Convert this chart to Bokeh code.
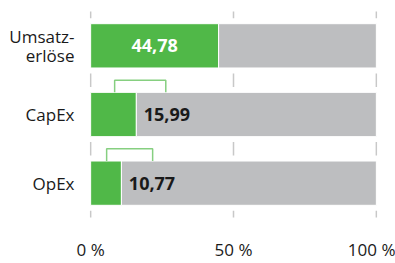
from bokeh.plotting import figure
from bokeh.models import ColumnDataSource, Range1d, FixedTicker
from bokeh.core.properties import value
from bokeh.embed import file_html
from bokeh.resources import INLINE

categories = ["Umsatz-\nerlöse", "CapEx", "OpEx"]
shares = [44.78, 15.99, 10.77]
share_labels = ["44,78", "15,99", "10,77"]
bracket_low = [None, 8.4, 5.6]
bracket_high = [None, 26.3, 21.7]
x_ticks = [0, 50, 100]
x_tick_labels = ["0 %", "50 %", "100 %"]

GREEN = "#50b848"
GREY = "#bdbec0"
BRACKET = "#86cf80"
GRID = "#c8c8c8"
TEXT = "#1a1a1a"
FONT = "Open Sans"

W, H = 395, 263
BL, BR, BT, BB = 89, 18, 11, 38
pitch = (H - BT - BB) / len(categories)
bar_h = 46 / pitch
dash_half = 7 / pitch
line_gap = 20 / pitch  # spacing of wrapped category label lines

pos = list(range(len(categories)))

p = figure(width=W, height=H, output_backend="svg", toolbar_location=None,
           x_range=Range1d(-0.4, 100.4), y_range=Range1d(len(categories) - 0.5, -0.5),
           min_border_left=BL, min_border_right=BR, min_border_top=BT, min_border_bottom=BB)
p.outline_line_color = None
p.background_fill_color = "white"
p.border_fill_color = "white"
p.xgrid.grid_line_color = None
p.ygrid.grid_line_color = None

# dashed gridlines: short dashes in the gaps between bars
bounds = [i - 0.5 for i in range(len(categories) + 1)]
gx, gy0, gy1 = [], [], []
for t in x_ticks:
    for b in bounds:
        gx.append(t)
        gy0.append(b - dash_half)
        gy1.append(b + dash_half)
p.segment(x0=gx, x1=gx, y0=gy0, y1=gy1, line_color=GRID, line_width=1.5)

src = ColumnDataSource(dict(y=pos, v=shares, full=[100] * len(pos)))
p.hbar(y="y", left=0, right="v", height=bar_h, source=src, fill_color=GREEN,
       line_color="white", line_width=1)
p.hbar(y="y", left="v", right="full", height=bar_h, source=src, fill_color=GREY,
       line_color="white", line_width=1)

# brackets above CapEx and OpEx
bx, by = [], []
for i, (lo, hi) in enumerate(zip(bracket_low, bracket_high)):
    if lo is None:
        continue
    top = pos[i] - 0.5
    base = pos[i] - bar_h / 2
    bx.append([lo, lo, hi, hi])
    by.append([base, top, top, base])
p.multi_line(xs=bx, ys=by, line_color=BRACKET, line_width=1.5)

# value labels
first = ColumnDataSource(dict(x=[shares[0] / 2], y=[pos[0]], t=[share_labels[0]]))
rest = ColumnDataSource(dict(x=[s + 2.6 for s in shares[1:]], y=pos[1:], t=share_labels[1:]))
p.text(x="x", y="y", text="t", source=first, text_color="white", text_font=value(FONT),
       text_font_style="bold", text_font_size="18px", text_align="center", text_baseline="middle")
p.text(x="x", y="y", text="t", source=rest, text_color=TEXT, text_font=value(FONT),
       text_font_style="bold", text_font_size="18px", text_align="left", text_baseline="middle")

# category labels: one tick per text line so every line is right-aligned
y_ticks, y_labels = [], []
for c, name in zip(pos, categories):
    lines = name.split("\n")
    n = len(lines)
    for k, ln in enumerate(lines):
        y_ticks.append(c + (k - (n - 1) / 2) * line_gap)
        y_labels.append(ln)

# axes
p.xaxis.ticker = FixedTicker(ticks=x_ticks)
p.xaxis.major_label_overrides = {t: l for t, l in zip(x_ticks, x_tick_labels)}
p.yaxis.ticker = FixedTicker(ticks=y_ticks)
p.yaxis.major_label_overrides = {t: l for t, l in zip(y_ticks, y_labels)}
for ax in (p.xaxis[0], p.yaxis[0]):
    ax.axis_line_color = None
    ax.major_tick_line_color = None
    ax.minor_tick_line_color = None
    ax.major_label_text_font = FONT
    ax.major_label_text_font_size = "17px"
    ax.major_label_text_color = TEXT
p.xaxis.major_label_standoff = 14
p.yaxis.major_label_standoff = 9

open("out.html", "w").write(file_html(p, INLINE))
